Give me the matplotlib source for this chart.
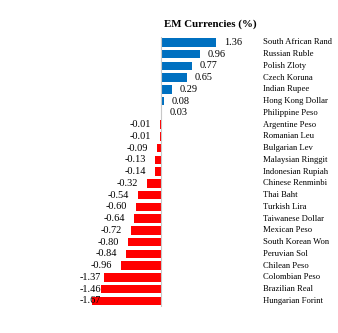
import matplotlib
matplotlib.use("Agg")
import matplotlib.pyplot as plt

currencies = [
    "South African Rand", "Russian Ruble", "Polish Zloty", "Czech Koruna",
    "Indian Rupee", "Hong Kong Dollar", "Philippine Peso", "Argentine Peso",
    "Romanian Leu", "Bulgarian Lev", "Malaysian Ringgit", "Indonesian Rupiah",
    "Chinese Renminbi", "Thai Baht", "Turkish Lira", "Taiwanese Dollar",
    "Mexican Peso", "South Korean Won", "Peruvian Sol", "Chilean Peso",
    "Colombian Peso", "Brazilian Real", "Hungarian Forint",
]
changes = [
    1.36, 0.96, 0.77, 0.65, 0.29, 0.08, 0.03, -0.01, -0.01, -0.09, -0.13,
    -0.14, -0.32, -0.54, -0.60, -0.64, -0.72, -0.80, -0.84, -0.96, -1.37,
    -1.46, -1.67,
]
title = "EM Currencies (%)"

plt.rcParams["font.family"] = ["Liberation Serif", "DejaVu Serif"]

W, H = 338, 333
fig = plt.figure(figsize=(W / 100, H / 100), dpi=100)
fig.patch.set_facecolor("white")

# plot area in pixel coordinates
px_left, px_right, px_top, px_bottom = 80, 260, 36.6, 306.8
ax = fig.add_axes([px_left / W, (H - px_bottom) / H,
                   (px_right - px_left) / W, (px_bottom - px_top) / H])

zero_px, scale = 160.5, 41.0
ax.set_xlim(-(zero_px - px_left) / scale, (px_right - zero_px) / scale)
n = len(currencies)
ax.set_ylim(n - 0.5, -0.5)

pos = range(n)
colors = ["#0070C0" if v >= 0 else "#FF0000" for v in changes]
ax.barh(pos, changes, height=0.72, color=colors, zorder=2)
ax.axvline(0, color="#C8C8C8", lw=0.8, zorder=3)

for s in ax.spines.values():
    s.set_visible(False)
ax.set_xticks([])
ax.set_yticks([])

# value labels just beyond each bar end, kept inside the plot area
labels = []
for i, v in enumerate(changes):
    if v >= 0:
        t = ax.annotate(f"{v:.2f}", (v, i), xytext=(5.5, 0),
                        textcoords="offset points", ha="left", va="center",
                        fontsize=7.4, color="black", zorder=4)
    else:
        t = ax.annotate(f"{v:.2f}", (v, i), xytext=(-6.5, 0),
                        textcoords="offset points", ha="right", va="center",
                        fontsize=7.4, color="black", zorder=4)
    labels.append((t, v, i))

fig.canvas.draw()
renderer = fig.canvas.get_renderer()
ax_bb = ax.get_window_extent(renderer)
for t, v, i in labels:
    bb = t.get_window_extent(renderer)
    if bb.x0 < ax_bb.x0:
        t.set_ha("left")
        t.xy = (ax.get_xlim()[0], i)
        t.set_position((0, 0))

# category names in a column right of the bars
for i, name in enumerate(currencies):
    ax.text((263 - px_left) / (px_right - px_left), i, name,
            transform=ax.get_yaxis_transform(), ha="left", va="center",
            fontsize=6.2, color="black", clip_on=False)

fig.text(210 / W, 1 - 24 / H, title, ha="center", va="center",
         fontsize=7.8, fontweight="bold", color="black")

fig.savefig("out.png", dpi=100, facecolor="white")
